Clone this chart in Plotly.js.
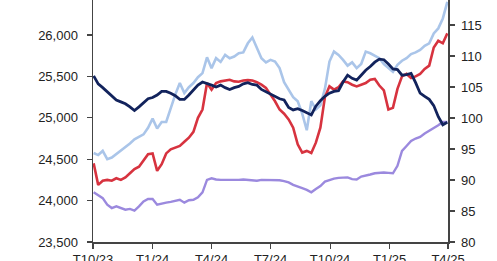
<!DOCTYPE html>
<html>
<head>
<meta charset="utf-8">
<script src="https://cdn.plot.ly/plotly-3.0.1.min.js"></script>
<style>html,body{margin:0;padding:0;background:#fff;}#chart{width:497px;height:261px;}</style>
</head>
<body>
<div id="chart"></div>
<script>
const dates = [
"2023-10-02","2023-10-09","2023-10-16","2023-10-23","2023-10-30","2023-11-06","2023-11-13","2023-11-20","2023-11-27","2023-12-04",
"2023-12-11","2023-12-18","2023-12-25","2024-01-01","2024-01-08","2024-01-15","2024-01-22","2024-01-29","2024-02-05","2024-02-12",
"2024-02-19","2024-02-26","2024-03-04","2024-03-11","2024-03-18","2024-03-25","2024-04-01","2024-04-08","2024-04-15","2024-04-22",
"2024-04-29","2024-05-06","2024-05-13","2024-05-20","2024-05-27","2024-06-03","2024-06-10","2024-06-17","2024-06-24","2024-07-01",
"2024-07-08","2024-07-15","2024-07-22","2024-07-29","2024-08-05","2024-08-12","2024-08-19","2024-08-26","2024-09-02","2024-09-09",
"2024-09-16","2024-09-23","2024-09-30","2024-10-07","2024-10-14","2024-10-21","2024-10-28","2024-11-04","2024-11-11","2024-11-18",
"2024-11-25","2024-12-02","2024-12-09","2024-12-16","2024-12-23","2024-12-30","2025-01-06","2025-01-13","2025-01-20","2025-01-27",
"2025-02-03","2025-02-10","2025-02-17","2025-02-24","2025-03-03","2025-03-10","2025-03-17","2025-03-24","2025-03-31"
];

// Light blue series (left axis)
const lightBlue = [
24575,24550,24600,24500,24520,24560,24600,24640,24690,24740,
24770,24800,24880,24990,24870,24950,24950,25130,25280,25420,
25300,25370,25420,25490,25540,25730,25600,25720,25675,25760,
25720,25740,25780,25790,25900,25970,25850,25720,25670,25700,
25680,25600,25430,25340,25250,25200,25050,24850,25200,25100,
25150,25350,25680,25800,25760,25700,25630,25670,25600,25650,
25800,25780,25750,25720,25650,25600,25555,25640,25690,25720,
25770,25790,25820,25870,25900,26020,26080,26200,26400
];

// Red series (left axis)
const red = [
24450,24190,24240,24250,24240,24270,24250,24280,24330,24380,
24410,24480,24560,24570,24360,24440,24570,24620,24640,24660,
24710,24760,24830,25000,25100,25420,25340,25420,25440,25450,
25460,25440,25435,25450,25455,25450,25430,25400,25360,25280,
25200,25100,25050,24980,24880,24680,24580,24600,24575,24700,
24880,25250,25380,25340,25370,25440,25430,25400,25380,25400,
25420,25460,25470,25390,25330,25100,25120,25350,25500,25530,
25480,25500,25530,25590,25630,25850,25930,25900,26020
];

// Purple series (left axis)
const purple = [
24100,24070,24030,23950,23910,23930,23910,23890,23900,23880,
23930,23990,24020,24020,23950,23965,23975,23985,24000,24010,
23975,24005,24010,24040,24100,24250,24270,24255,24250,24250,
24245,24250,24250,24255,24250,24245,24240,24250,24250,24245,
24250,24245,24235,24220,24190,24165,24150,24130,24100,24140,
24175,24230,24250,24265,24275,24280,24280,24260,24255,24290,
24300,24315,24330,24335,24340,24335,24330,24420,24600,24660,
24720,24750,24770,24810,24840,24870,24910,24950,24950
];

// Navy series (right axis)
const navy = [
106.8,105.5,104.9,104.2,103.6,102.9,102.6,102.3,101.8,101.2,
101.8,102.4,103.1,103.3,103.7,104.3,104.3,104.0,103.6,103.0,
103.0,103.7,104.5,105.3,105.8,105.6,105.3,105.0,105.3,104.9,
104.6,104.9,105.1,105.5,105.7,105.4,105.3,104.6,104.2,103.9,
103.4,103.1,102.9,101.7,101.3,101.5,101.2,100.8,100.5,101.9,
102.8,103.5,104.0,104.3,104.4,105.8,106.9,106.4,106.1,106.9,
107.7,108.3,109.0,109.5,109.4,108.7,107.9,107.8,106.9,107.0,
107.2,105.7,104.0,103.5,103.0,102.0,100.2,98.9,99.3
];

const xTickVals = ["2023-10-01","2024-01-01","2024-04-01","2024-07-01","2024-10-01","2025-01-01","2025-04-01"];
const xTickText = ["T10/23","T1/24","T4/24","T7/24","T10/24","T1/25","T4/25"];
const leftTicks = [23500,24000,24500,25000,25500,26000,26500];
const leftTickText = ["23,500","24,000","24,500","25,000","25,500","26,000","26,500"];
const rightTicks = [80,85,90,95,100,105,110,115,120];

const traces = [
  {x: dates, y: lightBlue, type: 'scatter', mode: 'lines', line: {color: '#aac5e9', width: 2.6}, yaxis: 'y'},
  {x: dates, y: purple, type: 'scatter', mode: 'lines', line: {color: '#9b89de', width: 2.4}, yaxis: 'y'},
  {x: dates, y: red, type: 'scatter', mode: 'lines', line: {color: '#d7333f', width: 2.6}, yaxis: 'y'},
  {x: dates, y: navy, type: 'scatter', mode: 'lines', line: {color: '#12235c', width: 2.8}, yaxis: 'y2'}
];

const axisCommon = {
  showgrid: false, zeroline: false, showline: true, linecolor: '#444', linewidth: 1.5,
  ticks: 'outside', ticklen: 5, tickwidth: 1.2, tickcolor: '#444',
  tickfont: {family: 'Liberation Sans, Arial, sans-serif', size: 13, color: '#222'}
};

const layout = {
  width: 497, height: 261,
  margin: {l: 93, r: 49, t: 0, b: 19, pad: 0},
  paper_bgcolor: '#fff', plot_bgcolor: '#fff',
  showlegend: false,
  xaxis: Object.assign({}, axisCommon, {
    type: 'date', range: ['2023-10-01', '2025-04-01'],
    tickmode: 'array', tickvals: xTickVals, ticktext: xTickText
  }),
  yaxis: Object.assign({}, axisCommon, {
    range: [23500, 26423], tickmode: 'array', tickvals: leftTicks, ticktext: leftTickText,
    ticklabelstandoff: 6
  }),
  yaxis2: Object.assign({}, axisCommon, {
    overlaying: 'y', side: 'right', range: [80, 119.03],
    tickmode: 'array', tickvals: rightTicks, ticklabelstandoff: 4
  })
};

Plotly.newPlot('chart', traces, layout, {staticPlot: true, displayModeBar: false});
</script>
</body>
</html>
